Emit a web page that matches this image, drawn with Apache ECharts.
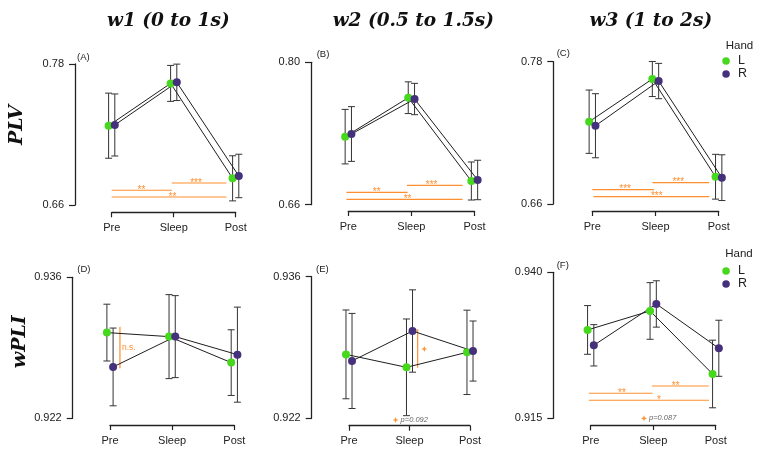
<!DOCTYPE html>
<html><head><meta charset="utf-8">
<script src="https://cdn.jsdelivr.net/npm/echarts@6/dist/echarts.min.js"></script>
<style>html,body{margin:0;padding:0;background:#fff}#c{width:762px;height:455px}</style>
</head><body><div id="c"></div>
<script>
// ---------------- data ----------------
const categories = ['Pre', 'Sleep', 'Post'];
const columnTitles = ['w1 (0 to 1s)', 'w2 (0.5 to 1.5s)', 'w3 (1 to 2s)'];
const rowLabels = ['PLV', 'wPLI'];
const panelLetters = ['(A)', '(B)', '(C)', '(D)', '(E)', '(F)'];
const hands = ['L', 'R'];
const legendTitle = 'Hand';

// PLV, means and error half-widths (Pre, Sleep, Post)
const plvW1_L = [0.7275, 0.7635, 0.6827];
const plvW1_Lerr = [0.0277, 0.0153, 0.0192];
const plvW1_R = [0.7281, 0.7644, 0.6847];
const plvW1_Rerr = [0.0264, 0.0155, 0.0185];

const plvW2_L = [0.7269, 0.7652, 0.6833];
const plvW2_Lerr = [0.0268, 0.0156, 0.0187];
const plvW2_R = [0.7295, 0.7639, 0.6843];
const plvW2_Rerr = [0.0269, 0.0154, 0.0194];

const plvW3_L = [0.7294, 0.7654, 0.6830];
const plvW3_Lerr = [0.0267, 0.0148, 0.0189];
const plvW3_R = [0.7260, 0.7637, 0.6822];
const plvW3_Rerr = [0.0270, 0.0149, 0.0193];

// wPLI
const wpliW1_L = [0.93051, 0.93011, 0.92753];
const wpliW1_Lerr = [0.00282, 0.00417, 0.00326];
const wpliW1_R = [0.92710, 0.93011, 0.92832];
const wpliW1_Rerr = [0.00386, 0.00407, 0.00472];

const wpliW2_L = [0.92832, 0.92704, 0.92852];
const wpliW2_Lerr = [0.00439, 0.00478, 0.00417];
const wpliW2_R = [0.92767, 0.93063, 0.92865];
const wpliW2_Rerr = [0.00470, 0.00407, 0.00297];

const wpliW3_L = [0.93013, 0.93338, 0.92259];
const wpliW3_Lerr = [0.00417, 0.00485, 0.00579];
const wpliW3_R = [0.92750, 0.93458, 0.92699];
const wpliW3_Rerr = [0.00354, 0.00397, 0.00480];

// y axis ticks (min, max) and their labels
const yTickValues = [[0.66, 0.78], [0.66, 0.80], [0.66, 0.78], [0.922, 0.936], [0.922, 0.936], [0.915, 0.940]];
const yTickLabels = [['0.66', '0.78'], ['0.66', '0.80'], ['0.66', '0.78'], ['0.922', '0.936'], ['0.922', '0.936'], ['0.915', '0.940']];

// significance bars: [from, to, level, label position, label]
const sigA = [[1.0, 1.97, 0.6725, 1.48, '**'], [1.97, 2.85, 0.6787, 2.36, '***'], [1.0, 2.85, 0.6668, 1.98, '**']];
const sigB = [[0.97, 1.94, 0.6721, 1.45, '**'], [1.93, 2.81, 0.6790, 2.32, '***'], [0.97, 2.81, 0.6652, 1.94, '**']];
const sigC = [[1.0, 1.976, 0.6721, 1.52, '***'], [1.95, 2.85, 0.6780, 2.36, '***'], [1.02, 2.85, 0.6662, 2.02, '***']];
const sigF = [[0.97, 1.99, 0.91928, 1.50, '**'], [1.98, 2.89, 0.92054, 2.36, '**'], [0.97, 2.89, 0.91808, 2.09, '*']];
// vertical L-vs-R brackets: [x, low, high]
const bracketD = [[1.16, 0.92696, 0.93110]];
const bracketE = [[2.135, 0.92700, 0.93080]];
const bracketDLabel = 'n.s.';
// trend markers: [x, y]
const trendE = [[2.245, 0.92885], [1.77, 0.92183]];
const trendF = [[1.853, 0.91500]];
const trendNoteE = 'p=0.092';
const trendNoteF = 'p=0.087';

// ---------------- layout / style ----------------
const GREEN = '#45D81C', PURPLE = '#45307C', ORANGE = '#FF8F2E', INK = '#222';
const DODGE = 0.05;
const grids = [
  { left: 111.7, top: 64.0, width: 124.0, height: 141.0, yOff: 36.7, xOff: 7.3 },
  { left: 348.3, top: 62.3, width: 126.2, height: 142.4, yOff: 37.3, xOff: 6.3 },
  { left: 592.3, top: 61.7, width: 126.4, height: 142.3, yOff: 39.0, xOff: 7.0 },
  { left: 110.0, top: 277.3, width: 124.3, height: 141.0, yOff: 37.3, xOff: 6.7 },
  { left: 349.0, top: 276.7, width: 121.0, height: 141.6, yOff: 37.3, xOff: 7.4 },
  { left: 590.7, top: 272.3, width: 125.0, height: 146.0, yOff: 37.4, xOff: 6.7 }
];
const panels = [
  { L: plvW1_L, Le: plvW1_Lerr, R: plvW1_R, Re: plvW1_Rerr, sig: sigA },
  { L: plvW2_L, Le: plvW2_Lerr, R: plvW2_R, Re: plvW2_Rerr, sig: sigB },
  { L: plvW3_L, Le: plvW3_Lerr, R: plvW3_R, Re: plvW3_Rerr, sig: sigC },
  { L: wpliW1_L, Le: wpliW1_Lerr, R: wpliW1_R, Re: wpliW1_Rerr, bracket: bracketD, bracketLabel: bracketDLabel },
  { L: wpliW2_L, Le: wpliW2_Lerr, R: wpliW2_R, Re: wpliW2_Rerr, bracket: bracketE, trend: trendE, note: trendNoteE },
  { L: wpliW3_L, Le: wpliW3_Lerr, R: wpliW3_R, Re: wpliW3_Rerr, sig: sigF, trend: trendF, note: trendNoteF }
];

const chart = echarts.init(document.getElementById('c'), null, { renderer: 'canvas' });

function starPoints(cx, cy, r, ri) {
  const pts = [];
  for (let k = 0; k < 8; k++) {
    const a = k * Math.PI / 4 - Math.PI / 2;
    const rr = k % 2 === 0 ? r : ri;
    pts.push([cx + rr * Math.cos(a), cy + rr * Math.sin(a)]);
  }
  return pts;
}

const gridOpt = [], xAxes = [], yAxes = [], series = [];
panels.forEach((p, i) => {
  const g = grids[i];
  gridOpt.push({ left: g.left, top: g.top, width: g.width, height: g.height, containLabel: false, outerBoundsMode: 'none' });
  xAxes.push({
    gridIndex: i, type: 'value', min: 1, max: 3, offset: g.xOff,
    axisLine: { show: true, onZero: false, lineStyle: { color: INK, width: 1.3 } },
    axisTick: { show: true, customValues: [1, 2, 3], length: 5, lineStyle: { color: INK, width: 1.2 } },
    axisLabel: { customValues: [1, 2, 3], formatter: v => categories[Math.round(v) - 1], color: INK, fontSize: 11, fontFamily: 'Liberation Sans', margin: 10 },
    splitLine: { show: false }
  });
  const tv = yTickValues[i], tl = yTickLabels[i];
  yAxes.push({
    gridIndex: i, type: 'value', min: tv[0], max: tv[1], offset: g.yOff,
    axisLine: { show: true, lineStyle: { color: INK, width: 1.3 } },
    axisTick: { show: true, customValues: tv, length: 6, lineStyle: { color: INK, width: 1.2 } },
    axisLabel: { customValues: tv, formatter: v => (Math.abs(v - tv[0]) < 1e-9 ? tl[0] : tl[1]), color: INK, fontSize: 11, fontFamily: 'Liberation Sans', margin: 11 },
    splitLine: { show: false }
  });
  [['L', p.L, p.Le, -DODGE, GREEN], ['R', p.R, p.Re, DODGE, PURPLE]].forEach(([name, m, e, dx, col]) => {
    series.push({
      type: 'custom', xAxisIndex: i, yAxisIndex: i, clip: false, z: 1, silent: true,
      data: m.map((v, j) => [j + 1 + dx, v - e[j], v + e[j]]),
      renderItem: (params, api) => {
        const a = api.coord([api.value(0), api.value(1)]);
        const b = api.coord([api.value(0), api.value(2)]);
        const w = 3.5, st = { stroke: '#333', lineWidth: 1 };
        return { type: 'group', children: [
          { type: 'line', shape: { x1: a[0], y1: a[1], x2: b[0], y2: b[1] }, style: st },
          { type: 'line', shape: { x1: a[0] - w, y1: a[1], x2: a[0] + w, y2: a[1] }, style: st },
          { type: 'line', shape: { x1: b[0] - w, y1: b[1], x2: b[0] + w, y2: b[1] }, style: st }
        ] };
      }
    });
  });
  [['L', p.L, -DODGE], ['R', p.R, DODGE]].forEach(([name, m, dx]) => {
    series.push({
      type: 'line', name: name + '-line', xAxisIndex: i, yAxisIndex: i, clip: false, z: 2, silent: true,
      data: m.map((v, j) => [j + 1 + dx, v]), symbol: 'none',
      lineStyle: { color: '#1e1e1e', width: 1 }
    });
  });
  [['L', p.L, -DODGE, GREEN], ['R', p.R, DODGE, PURPLE]].forEach(([name, m, dx, col]) => {
    series.push({
      type: 'scatter', name: name, xAxisIndex: i, yAxisIndex: i, clip: false, z: 3, silent: true,
      data: m.map((v, j) => [j + 1 + dx, v]), symbol: 'circle', symbolSize: 8,
      itemStyle: { color: col, opacity: 1 }
    });
  });
  if (p.sig) {
    const sig = p.sig;
    series.push({
      type: 'custom', xAxisIndex: i, yAxisIndex: i, clip: false, z: 1, silent: true,
      data: sig.map(s => [s[0], s[1], s[2], s[3]]),
      renderItem: (params, api) => {
        const a = api.coord([api.value(0), api.value(2)]);
        const b = api.coord([api.value(1), api.value(2)]);
        const c = api.coord([api.value(3), api.value(2)]);
        return { type: 'group', children: [
          { type: 'line', shape: { x1: a[0], y1: a[1], x2: b[0], y2: b[1] }, style: { stroke: ORANGE, lineWidth: 1.1 } },
          { type: 'text', x: c[0], y: c[1], style: { text: sig[params.dataIndex][4], fill: ORANGE, fontSize: 10, fontFamily: 'Liberation Sans', align: 'center', verticalAlign: 'middle' } }
        ] };
      }
    });
  }
  if (p.bracket) {
    const lab = p.bracketLabel;
    series.push({
      type: 'custom', xAxisIndex: i, yAxisIndex: i, clip: false, z: 1, silent: true,
      data: p.bracket,
      renderItem: (params, api) => {
        const a = api.coord([api.value(0), api.value(1)]);
        const b = api.coord([api.value(0), api.value(2)]);
        const ch = [{ type: 'line', shape: { x1: a[0], y1: a[1], x2: b[0], y2: b[1] }, style: { stroke: ORANGE, lineWidth: 1.2 } }];
        if (lab) ch.push({ type: 'text', x: a[0] + 2, y: (a[1] + b[1]) / 2, style: { text: lab, fill: ORANGE, fontSize: 8.5, fontFamily: 'Liberation Sans', align: 'left', verticalAlign: 'middle' } });
        return { type: 'group', children: ch };
      }
    });
  }
  if (p.trend) {
    const note = p.note, nT = p.trend.length;
    series.push({
      type: 'custom', xAxisIndex: i, yAxisIndex: i, clip: false, z: 3, silent: true,
      data: p.trend,
      renderItem: (params, api) => {
        const c = api.coord([api.value(0), api.value(1)]);
        const ch = [{ type: 'polygon', shape: { points: starPoints(c[0], c[1], 3, 1.2) }, style: { fill: ORANGE } }];
        if (params.dataIndex === nT - 1) ch.push({ type: 'text', x: c[0] + 5, y: c[1], style: { text: note, fill: '#666', fontSize: 7.5, fontStyle: 'italic', fontFamily: 'Liberation Sans', align: 'left', verticalAlign: 'middle' } });
        return { type: 'group', children: ch };
      }
    });
  }
});

const titleFont = { fontFamily: 'DejaVu Serif', fontStyle: 'italic', fontWeight: 'bold', fontSize: 18.5, color: '#111' };
const titleCenters = [168.3, 413.3, 650.8];
const titles = columnTitles.map((t, k) => ({ text: t, left: titleCenters[k], top: 12, textAlign: 'center', padding: 0, textStyle: titleFont }));

const letterPos = [[77, 57.7], [316.7, 54.3], [556.7, 53.3], [77.3, 269.3], [316, 269.3], [556.7, 265]];
const graphic = [];
letterPos.forEach((pp, k) => graphic.push({ type: 'text', x: pp[0], y: pp[1], silent: true,
  style: { text: panelLetters[k], fill: INK, fontSize: 9.5, fontFamily: 'Liberation Sans', align: 'left', verticalAlign: 'middle' } }));
[[17, 125], [20, 341.7]].forEach((pp, k) => graphic.push({ type: 'text', x: pp[0], y: pp[1], rotation: Math.PI / 2, silent: true,
  style: { text: rowLabels[k], fill: '#111', fontSize: 19, fontFamily: 'DejaVu Serif', fontStyle: 'italic', fontWeight: 'bold', align: 'center', verticalAlign: 'middle' } }));
[[739.5, 45.7], [739, 254]].forEach(pp => graphic.push({ type: 'text', x: pp[0], y: pp[1], silent: true,
  style: { text: legendTitle, fill: INK, fontSize: 11.5, fontFamily: 'Liberation Sans', align: 'center', verticalAlign: 'middle' } }));

const legendBase = { data: hands, orient: 'vertical', icon: 'circle', itemWidth: 14, itemHeight: 7.5, itemGap: 0, padding: 0,
  selectedMode: false, textStyle: { fontSize: 12.5, lineHeight: 11, color: INK, fontFamily: 'Liberation Sans' } };

chart.setOption({
  animation: false,
  backgroundColor: '#fff',
  title: titles,
  grid: gridOpt,
  xAxis: xAxes,
  yAxis: yAxes,
  legend: [Object.assign({ left: 722.3, top: 54.5 }, legendBase), Object.assign({ left: 722.3, top: 264.5 }, legendBase)],
  graphic: graphic,
  series: series
});
</script></body></html>
